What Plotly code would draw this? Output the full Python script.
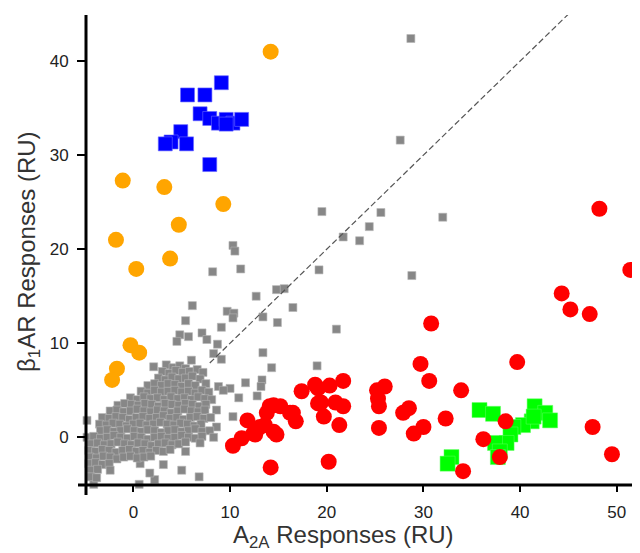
import plotly.graph_objects as go

# ---------------- data ----------------
orange_x = [14.2, -1.1, 3.2, 9.3, 4.7, -1.8, 3.8, 0.3, -5.3, -0.3, 0.6, -1.7, -2.2]
orange_y = [41.0, 27.3, 26.6, 24.8, 22.6, 21.0, 19.0, 17.9, 15.7, 9.8, 9.0, 7.3, 6.1]

blue_x = [9.1, 5.6, 7.4, 6.9, 7.9, 8.8, 9.6, 10.3, 11.2, 9.6, 4.9, 3.9, 3.3, 5.5, 7.9]
blue_y = [37.7, 36.4, 36.4, 34.4, 33.9, 33.4, 33.8, 33.4, 33.8, 33.3, 32.5, 31.4, 31.2, 31.2, 29.0]

green_x = [35.8, 37.2, 41.5, 42.6, 43.1, 41.2, 40.3, 39.3, 39.0, 38.6, 37.4, 37.9, 37.7, 32.9, 32.5, 41.4]
green_y = [2.9, 2.5, 3.3, 2.6, 1.8, 1.7, 1.3, 1.1, 0.3, -0.6, -0.6, -1.5, -2.1, -2.1, -2.8, 2.2]

red_x = [10.3, 11.2, 11.8, 12.4, 12.6, 13.1, 13.6, 13.8, 14.1, 14.5, 14.5, 14.8, 15.2, 16.2, 16.5,
         16.8, 14.2, 17.4, 18.8, 19.1, 19.1, 19.4, 19.7, 20.3, 20.9, 21.7, 21.7, 21.3, 20.2,
         25.2, 26.0, 25.3, 25.4, 25.4, 27.9, 28.5, 29.0, 30.0, 29.7, 30.6, 30.8, 32.3, 33.9,
         34.1, 36.2, 37.9, 38.5, 39.7, 44.3, 45.2, 47.2, 47.5, 49.5, 51.4, 48.2]
red_y = [-0.9, -0.1, 1.8, 0.4, 0.3, 1.1, 1.3, 2.6, 3.3, 3.4, 0.6, 0.3, 3.3, 2.6, 2.6,
         1.7, -3.2, 4.9, 5.6, 5.2, 3.6, 3.7, 2.2, 5.5, 3.7, 6.0, 3.3, 1.3, -2.6,
         5.0, 5.4, 4.1, 3.3, 1.0, 2.6, 3.1, 0.4, 1.1, 7.8, 6.0, 12.1, 2.0, 5.0,
         -3.6, -0.2, -2.1, 1.7, 8.0, 15.3, 13.6, 13.1, 1.1, -1.8, 17.8, 24.3]

# grey compounds: scattered ones, then the dense cloud row by row (x, y)
gray_pts = [
    (28.7, 42.4), (27.6, 31.6), (19.5, 24.0), (25.6, 23.9), (24.4, 22.4), (21.7, 21.3), (23.4, 20.9),
    (32.0, 23.4), (10.3, 20.4), (10.5, 19.8), (8.2, 17.6), (11.1, 17.9), (19.2, 17.8), (28.8, 17.2),
    (14.8, 15.7), (15.6, 15.8), (12.7, 15.0), (9.7, 13.4), (10.4, 13.2), (10.3, 12.7), (13.4, 12.8),
    (16.5, 13.8), (14.9, 12.2), (21.0, 11.5), (9.1, 11.7), (7.1, 11.1), (7.6, 10.4), (6.1, 14.0),
    (5.4, 12.4), (4.8, 10.9), (5.7, 10.7), (4.5, 10.2), (8.7, 9.9), (8.3, 8.9), (9.1, 8.3),
    (13.4, 9.0), (14.3, 7.4), (11.6, 5.8), (13.3, 6.1), (13.2, 5.4), (12.8, 4.4), (19.0, 7.6),
    (6.0, 8.2), (10.0, 5.2), (10.9, 4.2), (8.6, 2.9), (10.3, 2.2), (5.0, -3.5), (6.8, -4.2),
    (3.1, -2.9), (5.4, -1.5), (0.7, -2.8), (2.2, -4.5), (0.6, -5.0), (-4.1, -5.0),
    (2.1, 7.5), (3.4, 7.7), (4.1, 7.4), (4.8, 7.6), (5.4, 7.3),
    (3.0, 7.0), (3.7, 6.8), (4.4, 7.1), (5.1, 6.9), (5.8, 7.0), (6.6, 7.2), (7.2, 6.9),
    (2.6, 6.3), (3.3, 6.1), (4.0, 6.4), (4.7, 6.2), (5.4, 6.3), (6.1, 6.5), (6.9, 6.2),
    (1.5, 5.5), (2.2, 5.7), (2.9, 5.5), (3.6, 5.7), (4.3, 5.6), (5.0, 5.4), (5.7, 5.7), (6.4, 5.5), (7.5, 5.7), (8.8, 5.4),
    (0.8, 4.9), (1.5, 4.7), (2.2, 5.0), (2.9, 4.8), (3.6, 4.9), (4.3, 5.0), (5.0, 4.8), (5.7, 4.9), (6.4, 4.7), (7.1, 5.0), (7.8, 4.8), (9.3, 5.0),
    (-0.3, 4.2), (0.4, 4.0), (1.1, 4.3), (1.8, 4.1), (2.5, 4.2), (3.2, 4.0), (3.9, 4.3), (4.6, 4.1), (5.3, 4.2), (6.0, 4.0), (6.7, 4.3), (7.4, 4.1), (8.1, 4.0),
    (-1.6, 3.4), (-0.9, 3.6), (-0.2, 3.5), (0.5, 3.4), (1.2, 3.6), (1.9, 3.5), (2.6, 3.3), (3.3, 3.6), (4.0, 3.5), (4.7, 3.4), (5.4, 3.6), (6.1, 3.5), (6.8, 3.3), (7.5, 3.5),
    (-2.4, 2.8), (-1.7, 2.9), (-1.0, 2.7), (-0.3, 2.8), (0.4, 3.0), (1.1, 2.8), (1.8, 2.7), (2.5, 2.9), (3.2, 2.8), (3.9, 2.6), (4.6, 2.8), (5.3, 3.0), (6.0, 2.8), (6.7, 2.7), (7.4, 2.9),
    (-3.2, 2.1), (-2.5, 2.0), (-1.8, 2.2), (-1.1, 2.1), (-0.4, 1.9), (0.3, 2.1), (1.0, 2.2), (1.7, 2.0), (2.4, 2.1), (3.1, 2.3), (3.8, 2.0), (4.5, 2.1), (5.2, 1.9), (5.9, 2.1), (6.6, 2.2), (7.3, 2.0), (8.0, 2.1),
    (-4.8, 1.8), (-3.5, 1.4), (-2.8, 1.3), (-2.1, 1.5), (-1.4, 1.4), (-0.7, 1.2), (0.0, 1.4), (0.7, 1.5), (1.4, 1.3), (2.1, 1.4), (2.8, 1.6), (3.5, 1.4), (4.2, 1.3), (4.9, 1.5), (5.6, 1.4), (6.3, 1.2), (7.0, 1.4), (8.6, 1.1),
    (-3.4, 0.7), (-2.7, 0.8), (-2.0, 0.6), (-1.3, 0.7), (-0.6, 0.9), (0.1, 0.7), (0.8, 0.6), (1.5, 0.8), (2.2, 0.7), (2.9, 0.5), (3.6, 0.7), (4.3, 0.8), (5.0, 0.6), (5.7, 0.7), (6.4, 0.9), (7.1, 0.6), (7.9, 0.7),
    (-4.8, 0.0), (-4.1, 0.1), (-3.4, -0.1), (-2.7, 0.0), (-2.0, 0.2), (-1.3, 0.0), (-0.6, -0.1), (0.1, 0.1), (0.8, 0.0), (1.5, -0.2), (2.2, 0.0), (2.9, 0.1), (3.6, -0.1), (4.3, 0.0), (5.0, 0.2), (5.7, 0.0), (6.4, -0.1), (7.1, 0.1), (8.3, 0.0),
    (-4.4, -0.7), (-3.7, -0.6), (-3.0, -0.8), (-2.3, -0.7), (-1.6, -0.5), (-0.9, -0.7), (-0.2, -0.8), (0.5, -0.6), (1.2, -0.7), (1.9, -0.9), (2.6, -0.7), (3.3, -0.6), (4.0, -0.8), (4.7, -0.7), (5.4, -0.5), (6.9, -0.6),
    (-4.6, -1.4), (-3.9, -1.5), (-3.2, -1.3), (-2.5, -1.4), (-1.8, -1.6), (-1.1, -1.4), (-0.4, -1.3), (0.3, -1.5), (1.0, -1.4), (1.7, -1.6), (2.4, -1.4), (3.1, -1.5), (3.8, -1.3),
    (-4.5, -2.1), (-3.8, -2.2), (-3.1, -2.0), (-2.4, -2.1), (-1.7, -2.3), (-1.0, -2.1), (-0.3, -2.0), (0.4, -2.2), (1.1, -2.1), (1.8, -2.0),
    (-4.6, -2.8), (-3.9, -2.7), (-3.2, -2.9), (-2.5, -2.8),
    (-4.4, -3.5), (-3.7, -3.4), (-2.4, -3.5), (1.7, -3.8),
    (-4.4, -4.2), (-3.8, -4.3),
]
gray_x = [p[0] for p in gray_pts]
gray_y = [p[1] for p in gray_pts]

diag_x = [7.9, 45.2]
diag_y = [7.9, 45.2]

x_ticks = [0, 10, 20, 30, 40, 50]
y_ticks = [0, 10, 20, 30, 40]

x_title = "A<sub>2A</sub> Responses (RU)"
y_title = "β<sub>1</sub>AR Responses (RU)"

# ---------------- figure ----------------
fig = go.Figure()

fig.add_trace(go.Scatter(x=gray_x, y=gray_y, mode="markers", cliponaxis=False,
                         marker=dict(symbol="square", size=8, color="#878787",
                                     line=dict(width=0.6, color="#b5b5b5"))))
fig.add_trace(go.Scatter(x=green_x, y=green_y, mode="markers", cliponaxis=False,
                         marker=dict(symbol="square", size=15, color="#00ff00",
                                     line=dict(width=0.5, color="#60ff60"))))
fig.add_trace(go.Scatter(x=red_x, y=red_y, mode="markers", cliponaxis=False,
                         marker=dict(symbol="circle", size=16, color="#ff0000",
                                     line=dict(width=0))))
fig.add_trace(go.Scatter(x=orange_x, y=orange_y, mode="markers", cliponaxis=False,
                         marker=dict(symbol="circle", size=16, color="#ffa500",
                                     line=dict(width=0))))
fig.add_trace(go.Scatter(x=blue_x, y=blue_y, mode="markers", cliponaxis=False,
                         marker=dict(symbol="square", size=14, color="#0000ff",
                                     line=dict(width=0.6, color="#6a6aff"))))
fig.add_trace(go.Scatter(x=diag_x, y=diag_y, mode="lines",
                         line=dict(color="#555555", width=1.2, dash="6px,3px")))

# the page body keeps an 8 px margin, so the figure is 632 x 545
PW, PH = 554, 470
fig.update_layout(
    width=632, height=545,
    margin=dict(l=78, r=0, t=7, b=68, autoexpand=False),
    paper_bgcolor="white", plot_bgcolor="white",
    showlegend=False,
    font=dict(family="Liberation Sans, Arial, sans-serif", color="#222222"),
    shapes=[
        dict(type="line", xref="paper", yref="paper", x0=0, x1=0, y0=-10 / PH, y1=1,
             line=dict(color="black", width=3)),
        dict(type="line", xref="paper", yref="paper", x0=-8 / PW, x1=1, y0=0, y1=0,
             line=dict(color="black", width=3)),
    ],
    annotations=[
        dict(text=x_title, xref="paper", yref="paper", x=(343 - 86) / PW, y=-51 / PH,
             xanchor="center", yanchor="middle", showarrow=False,
             font=dict(size=24, color="#333333")),
        dict(text=y_title, xref="paper", yref="paper", x=-58 / PW, y=(485 - 252) / PH,
             xanchor="center", yanchor="middle", showarrow=False, textangle=-90,
             font=dict(size=24, color="#333333")),
    ],
)
fig.update_xaxes(range=[-4.9, 52.4], tickvals=x_ticks, ticks="outside", ticklen=6, tickwidth=2,
                 tickcolor="black", showline=False, showgrid=False, zeroline=False,
                 automargin=False,
                 tickfont=dict(size=17, color="#222222"), ticklabelstandoff=6)
fig.update_yaxes(range=[-5.07, 44.9], tickvals=y_ticks, ticks="outside", ticklen=8, tickwidth=2,
                 tickcolor="black", showline=False, showgrid=False, zeroline=False,
                 automargin=False,
                 tickfont=dict(size=17, color="#222222"), ticklabelstandoff=5)

fig.write_html("out.html")
